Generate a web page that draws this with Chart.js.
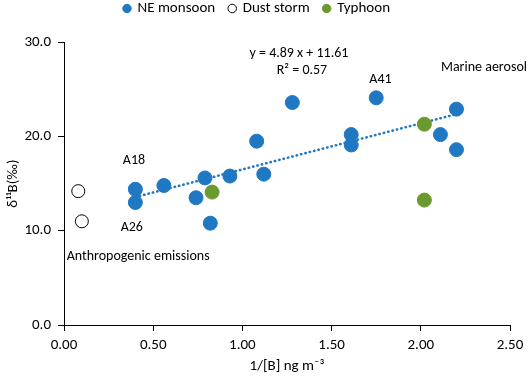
<!DOCTYPE html>
<html>
<head>
<meta charset="utf-8">
<script src="https://cdn.jsdelivr.net/npm/chart.js"></script>
<style>
  html, body { margin: 0; padding: 0; background: #fff; }
  #wrap { width: 529px; height: 379px; }
</style>
</head>
<body>
<div id="wrap"><canvas id="c" width="529" height="379"></canvas></div>
<script>
// values
const neMonsoonX = [0.40, 0.40, 0.56, 0.74, 0.79, 0.82, 0.93, 1.08, 1.12, 1.28, 1.61, 1.61, 1.75, 2.11, 2.20, 2.20];
const neMonsoonY = [14.4, 13.0, 14.8, 13.5, 15.6, 10.8, 15.8, 19.5, 16.0, 23.6, 20.2, 19.1, 24.1, 20.2, 22.9, 18.6];
const dustX = [0.08, 0.10];
const dustY = [14.2, 11.0];
const typhoonX = [0.83, 2.02, 2.02];
const typhoonY = [14.1, 21.3, 13.25];
// trendline end points (y = 4.89 x + 11.61)
const trendX = [0.40, 2.20];
const trendY = [13.57, 22.37];
const xTicks = [0, 0.5, 1, 1.5, 2, 2.5];
const yTicks = [0, 10, 20, 30];

// text labels placed in data coordinates
const notes = [
  { text: 'y = 4.89 x + 11.61', x: 1.317, y: 28.8, align: 'center' },
  { text: 'R\u00b2 = 0.57', x: 1.334, y: 27.0, align: 'center' },
  { text: 'A41', x: 1.774, y: 26.0, align: 'center' },
  { text: 'Marine aerosol', x: 2.354, y: 27.35, align: 'center' },
  { text: 'A18', x: 0.392, y: 17.4, align: 'center' },
  { text: 'A26', x: 0.38, y: 10.3, align: 'center' },
  { text: 'Anthropogenic emissions', x: 0.015, y: 7.3, align: 'left' }
];

const BLUE = '#1f78c1';
const GREEN = '#6a9a2f';
const FONT = "Carlito, Lato, 'Open Sans', sans-serif";

const pts = (xs, ys) => xs.map((x, i) => ({ x, y: ys[i] }));

const notesPlugin = {
  id: 'notes',
  afterDatasetsDraw(chart) {
    const { ctx, scales } = chart;
    ctx.save();
    ctx.font = '14px ' + FONT;
    ctx.fillStyle = '#000';
    ctx.textBaseline = 'middle';
    notes.forEach(n => {
      ctx.textAlign = n.align;
      ctx.fillText(n.text, scales.x.getPixelForValue(n.x), scales.y.getPixelForValue(n.y));
    });
    ctx.restore();
  }
};

new Chart(document.getElementById('c'), {
  type: 'scatter',
  data: {
    datasets: [
      { label: 'NE monsoon', data: pts(neMonsoonX, neMonsoonY), backgroundColor: BLUE, borderColor: BLUE,
        pointRadius: 7, pointHoverRadius: 7, order: 1 },
      { label: 'Dust storm', data: pts(dustX, dustY), backgroundColor: '#fff', borderColor: '#000',
        borderWidth: 1, pointRadius: 6.5, pointHoverRadius: 6.5, order: 2 },
      { label: 'Typhoon', data: pts(typhoonX, typhoonY), backgroundColor: GREEN, borderColor: GREEN,
        pointRadius: 7, pointHoverRadius: 7, order: 0 },
      { type: 'line', label: 'trend', data: pts(trendX, trendY), borderColor: BLUE, borderWidth: 2.5,
        borderDash: [0.5, 4], borderCapStyle: 'round', pointRadius: 0, fill: false, order: 3 }
    ]
  },
  options: {
    responsive: false,
    animation: false,
    layout: { padding: { left: 4, right: 19, top: -13, bottom: 4 } },
    plugins: {
      tooltip: { enabled: false },
      legend: {
        position: 'top',
        labels: {
          filter: item => item.text !== 'trend',
          sort: (a, b) => a.datasetIndex - b.datasetIndex,
          usePointStyle: true,
          pointStyle: 'circle',
          boxWidth: 6,
          boxHeight: 6,
          padding: 14,
          color: '#000',
          font: { family: FONT, size: 15 }
        }
      },
      // empty spacer between legend and plot area
      subtitle: { display: true, text: ' ', weight: 500, font: { size: 1 }, padding: { top: 0, bottom: 15 } }
    },
    scales: {
      x: {
        type: 'linear',
        min: 0, max: 2.5,
        afterBuildTicks: s => { s.ticks = xTicks.map(v => ({ value: v })); },
        afterFit: s => { s.height = 50; },
        grid: { display: true, drawOnChartArea: false, drawTicks: true, tickLength: 6, color: '#000' },
        border: { color: '#000', width: 1 },
        ticks: { color: '#000', font: { family: FONT, size: 15 }, padding: 5,
          callback: v => Number(v).toFixed(2) },
        title: { display: true, text: '1/[B] ng m\u207b\u00b3', color: '#000', font: { family: FONT, size: 15 }, padding: { top: 0, bottom: 0 } }
      },
      y: {
        type: 'linear',
        min: 0, max: 30,
        afterBuildTicks: s => { s.ticks = yTicks.map(v => ({ value: v })); },
        afterFit: s => { s.width = 60; },
        grid: { display: true, drawOnChartArea: false, drawTicks: true, tickLength: 6, color: '#000' },
        border: { color: '#000', width: 1 },
        ticks: { color: '#000', font: { family: FONT, size: 15 }, padding: 7,
          callback: v => Number(v).toFixed(1) },
        title: { display: true, text: '\u03b4\u00b9\u00b9B(\u2030)', color: '#000', font: { family: FONT, size: 15 }, padding: { top: 0, bottom: 4 } }
      }
    }
  },
  plugins: [notesPlugin]
});
</script>
</body>
</html>
